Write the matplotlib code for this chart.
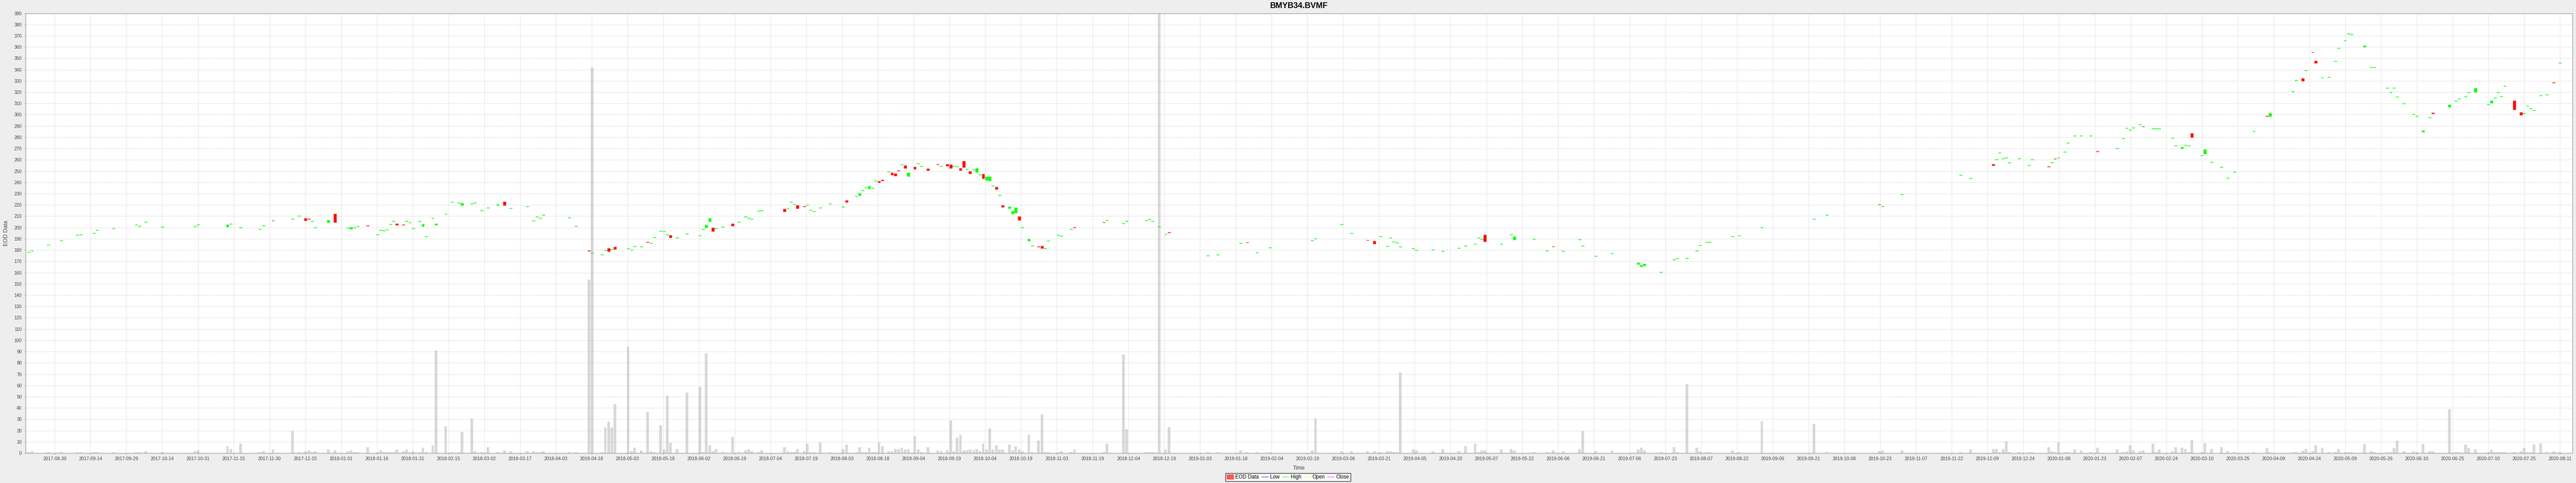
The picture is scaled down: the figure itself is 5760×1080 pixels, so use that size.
import numpy as np
import matplotlib
matplotlib.use("Agg")
import matplotlib.pyplot as plt
from matplotlib.patches import Patch
from matplotlib.lines import Line2D

plt.rcParams['font.family'] = ['Liberation Sans', 'DejaVu Sans']

title = "BMYB34.BVMF"
y_label = "EOD Data"
x_label = "Time"
base_date = "2017-08-30"   # sessions are counted in business days from this date

tick_labels = [
    "2017-08-30", "2017-09-14", "2017-09-29", "2017-10-14", "2017-10-31", "2017-11-15",
    "2017-11-30", "2017-12-15", "2018-01-01", "2018-01-16", "2018-01-31", "2018-02-15",
    "2018-03-02", "2018-03-17", "2018-04-03", "2018-04-18", "2018-05-03", "2018-05-18",
    "2018-06-02", "2018-06-19", "2018-07-04", "2018-07-19", "2018-08-03", "2018-08-18",
    "2018-09-04", "2018-09-19", "2018-10-04", "2018-10-19", "2018-11-03", "2018-11-19",
    "2018-12-04", "2018-12-19", "2019-01-03", "2019-01-18", "2019-02-04", "2019-02-19",
    "2019-03-06", "2019-03-21", "2019-04-05", "2019-04-20", "2019-05-07", "2019-05-22",
    "2019-06-06", "2019-06-21", "2019-07-06", "2019-07-23", "2019-08-07", "2019-08-22",
    "2019-09-06", "2019-09-21", "2019-10-08", "2019-10-23", "2019-11-07", "2019-11-22",
    "2019-12-09", "2019-12-24", "2020-01-08", "2020-01-23", "2020-02-07", "2020-02-24",
    "2020-03-10", "2020-03-25", "2020-04-09", "2020-04-24", "2020-05-09", "2020-05-26",
    "2020-06-10", "2020-06-25", "2020-07-10", "2020-07-25", "2020-08-11",
]

# ---- 2017-08 .. 2018-02
sessions_a = [-8, -7, -2, 2, 7, 8, 12, 13, 18, 25, 26, 28, 33, 43, 44, 53, 54, 57, 63, 64, 67, 73, 75, 77, 78,
              79, 80, 84, 86, 90, 91, 92, 93, 96, 99, 100, 101, 102, 103, 104, 105, 107, 108, 109, 110, 112,
              113, 114, 116, 117, 120]
open_a = [178.1, 179.3, 184.4, 188.3, 193.1, 193.6, 194.7, 197.5, 199.0, 202.3, 201.0, 204.6, 200.3, 200.5,
          202.3, 200.5, 203.1, 200.0, 198.2, 201.6, 206.1, 207.4, 210.2, 208.4, 207.8, 205.4, 200.0, 204.6,
          212.2, 199.5, 198.8, 200.0, 201.0, 201.7, 193.4, 197.5, 197.0, 197.7, 202.6, 205.6, 203.5, 202.5,
          205.4, 204.4, 199.0, 205.6, 200.9, 191.9, 208.2, 202.4, 211.8]
close_a = [178.5, 179.7, 184.8, 188.7, 193.5, 194.0, 195.1, 197.9, 199.4, 202.7, 201.4, 205.0, 200.7, 200.9,
           202.7, 202.5, 203.5, 200.4, 198.6, 202.0, 206.1, 207.8, 210.6, 206.4, 207.4, 205.8, 200.4, 206.6,
           204.6, 199.9, 200.3, 200.4, 201.4, 201.3, 193.8, 197.9, 197.4, 198.1, 203.0, 206.0, 202.3, 202.1,
           205.8, 204.8, 199.4, 206.0, 203.0, 192.3, 208.6, 203.6, 212.2]
volume_a = [0.8, 1.5, 0.8, 0.8, 0.8, 0.8, 0.8, 0.8, 0.8, 0.8, 0.8, 1.5, 0.8, 1.5, 2.3, 5.9, 3.8, 8.2, 0.8, 1.5,
            3.1, 19.4, 0.8, 1.5, 2.3, 0.8, 1.5, 3.1, 2.3, 1.5, 2.3, 0.8, 0.8, 5.1, 0.8, 2.3, 0.8, 0.8, 0.8,
            0.8, 3.1, 1.5, 3.1, 0.8, 1.5, 0.8, 4.6, 0.8, 6.9, 90.9, 23.8]

# ---- 2018-02 .. 2018-08
sessions_b = [122, 124, 125, 128, 129, 131, 133, 136, 138, 140, 145, 147, 148, 149, 150, 158, 160, 164, 165,
              168, 169, 170, 171, 172, 176, 177, 178, 180, 182, 183, 184, 186, 187, 188, 189, 191, 194, 198,
              199, 200, 201, 202, 203, 205, 208, 210, 212, 213, 214, 216, 217, 224, 225, 226, 227, 228, 230,
              231, 232, 233, 235, 238, 242, 243, 246, 247, 248, 249, 250, 251]
open_b = [222.5, 221.5, 219.6, 220.7, 221.7, 214.8, 217.4, 219.9, 223.0, 216.9, 218.4, 205.9, 209.5, 208.2,
          211.0, 208.5, 201.0, 179.7, 177.3, 175.5, 179.8, 181.6, 180.6, 182.9, 181.1, 180.1, 183.2, 182.7,
          187.1, 186.0, 191.1, 196.7, 196.5, 193.4, 193.1, 190.8, 194.2, 192.6, 198.2, 200.0, 205.3, 199.7,
          199.0, 200.3, 203.5, 204.6, 209.5, 208.2, 207.4, 214.6, 215.1, 216.6, 216.9, 222.5, 220.5, 219.9,
          218.8, 219.7, 215.4, 214.1, 217.4, 221.0, 218.2, 224.0, 227.8, 228.6, 232.8, 235.3, 234.2, 234.8]
close_b = [222.9, 221.9, 221.7, 221.1, 222.1, 215.2, 217.8, 220.3, 219.6, 217.3, 218.8, 206.3, 209.9, 208.6,
           211.4, 208.9, 201.4, 179.3, 177.7, 175.9, 180.2, 179.0, 181.0, 180.8, 181.5, 180.5, 183.6, 183.1,
           186.7, 186.4, 191.5, 197.1, 196.9, 193.8, 191.0, 191.2, 194.6, 193.0, 198.6, 202.3, 208.1, 196.7,
           199.4, 200.7, 201.5, 205.0, 209.9, 208.6, 207.8, 215.0, 215.5, 214.3, 217.3, 222.9, 220.9, 216.8,
           218.4, 220.1, 215.8, 214.5, 217.8, 221.4, 218.6, 222.5, 228.2, 230.6, 233.2, 235.7, 236.7, 235.2]
volume_b = [0.8, 0.8, 18.6, 30.6, 1.5, 0.8, 5.1, 0.8, 2.3, 1.5, 1.5, 1.5, 0.8, 0.8, 1.5, 0.8, 0.8, 154.0,
            341.7, 0.8, 22.5, 27.6, 22.5, 43.2, 94.5, 1.5, 4.6, 2.3, 36.5, 1.5, 0.8, 24.5, 3.1, 50.6, 9.2,
            3.8, 53.6, 58.7, 0.8, 88.4, 6.9, 1.5, 3.8, 0.8, 14.3, 0.8, 2.3, 3.1, 1.5, 0.8, 2.3, 5.1, 1.5,
            0.8, 0.8, 3.8, 1.5, 8.2, 0.8, 0.8, 9.7, 0.8, 3.8, 7.7, 0.8, 5.1, 0.8, 0.8, 4.6, 0.8]

# ---- 2018-08 .. 2019-02
sessions_c = [252, 253, 254, 256, 257, 258, 259, 260, 261, 262, 264, 265, 266, 268, 271, 272, 274, 275, 276,
              277, 278, 279, 280, 281, 282, 283, 284, 285, 286, 287, 288, 289, 290, 291, 293, 294, 295, 296,
              297, 299, 300, 302, 303, 304, 305, 308, 309, 312, 313, 322, 323, 328, 329, 335, 336, 337, 339,
              341, 342, 354, 357, 364, 366, 369, 373]
open_c = [241.1, 241.3, 242.2, 249.3, 248.5, 247.7, 250.5, 255.7, 255.1, 245.4, 253.9, 256.5, 254.2, 252.1,
          256.1, 254.2, 256.2, 255.6, 254.2, 253.9, 252.6, 259.0, 251.6, 249.8, 250.9, 249.0, 246.5, 247.5,
          242.1, 241.6, 236.6, 236.0, 228.4, 219.9, 217.1, 212.0, 213.0, 209.9, 200.0, 188.0, 183.7, 183.1,
          183.6, 181.4, 187.8, 193.1, 192.4, 198.2, 200.4, 204.6, 206.2, 203.3, 205.4, 206.2, 206.9, 205.4,
          200.5, 193.9, 195.8, 175.0, 175.8, 186.0, 186.7, 177.6, 181.9]
close_c = [241.5, 239.8, 241.5, 249.7, 246.5, 245.7, 250.1, 256.1, 252.8, 248.5, 251.8, 256.9, 254.6, 250.5,
           255.7, 254.6, 254.6, 252.6, 254.6, 254.3, 250.8, 253.3, 252.0, 247.7, 251.3, 252.6, 246.9, 243.6,
           244.9, 245.2, 237.0, 234.0, 228.8, 218.1, 218.4, 214.5, 217.6, 206.6, 200.4, 190.0, 184.1, 182.7,
           181.6, 181.8, 188.2, 193.5, 192.8, 198.6, 200.0, 204.6, 206.6, 203.7, 205.8, 206.6, 207.3, 205.8,
           200.9, 194.3, 195.4, 175.4, 176.2, 186.4, 186.7, 178.0, 182.3]
volume_c = [0.8, 9.7, 5.9, 1.5, 1.5, 3.8, 3.8, 4.6, 3.1, 3.1, 15.1, 3.1, 0.8, 5.1, 2.3, 1.5, 2.3, 28.9, 1.5,
            13.5, 16.3, 2.3, 2.3, 3.1, 2.3, 3.8, 1.5, 8.4, 3.1, 21.7, 3.1, 6.9, 3.1, 3.1, 7.7, 2.3, 5.9, 3.1,
            1.5, 16.3, 0.8, 11.2, 34.2, 0.8, 0.8, 0.8, 1.5, 0.8, 3.1, 0.8, 8.2, 87.1, 20.9, 0.8, 0.8, 0.8,
            395.0, 3.1, 23.0, 0.8, 0.8, 2.3, 0.8, 0.8, 0.8]

# ---- 2019-02 .. 2019-08
sessions_d = [386, 387, 395, 398, 403, 405, 407, 409, 410, 411, 412, 413, 417, 418, 423, 426, 431, 433, 436,
              437, 438, 439, 444, 447, 448, 454, 458, 460, 463, 468, 469, 473, 478, 486, 487, 488, 493, 497,
              498, 501, 504, 505, 507, 508]
open_d = [188.3, 190.1, 202.8, 194.7, 188.7, 188.0, 191.9, 183.2, 190.8, 187.0, 186.2, 182.9, 181.4, 179.8,
          180.1, 178.8, 181.6, 183.7, 185.2, 190.6, 189.6, 193.6, 185.2, 193.4, 189.2, 189.6, 179.1, 183.1,
          178.8, 189.0, 183.7, 174.5, 176.8, 167.3, 165.4, 166.3, 160.2, 171.2, 172.4, 172.4, 179.1, 184.2,
          186.7, 186.7]
close_d = [188.7, 190.5, 203.2, 195.1, 188.7, 185.5, 192.3, 183.6, 191.2, 187.4, 186.6, 183.3, 181.8, 180.2,
           180.5, 179.2, 182.0, 184.1, 185.6, 191.0, 190.0, 187.7, 185.6, 193.8, 192.1, 190.0, 179.5, 183.1,
           179.2, 189.4, 184.1, 174.9, 177.2, 168.8, 166.6, 167.7, 160.6, 171.6, 172.8, 172.8, 179.5, 184.6,
           187.1, 187.1]
volume_d = [2.3, 30.6, 1.5, 1.5, 1.5, 1.5, 0.8, 1.5, 1.5, 0.8, 0.8, 71.5, 3.1, 2.3, 1.5, 3.8, 1.5, 5.9, 8.4,
            0.8, 2.3, 2.3, 3.1, 3.8, 2.3, 0.8, 0.8, 2.3, 1.5, 3.8, 19.4, 1.5, 2.3, 3.1, 4.6, 2.3, 0.8, 5.1,
            0.8, 61.0, 4.6, 1.5, 0.8, 0.8]

# ---- 2019-08 .. 2020-02
sessions_e = [515, 517, 524, 540, 544, 560, 561, 567, 585, 588, 595, 596, 597, 598, 599, 600, 603, 606, 607,
              612, 613, 614, 615, 617, 618, 620, 622, 625, 627, 633, 635, 636, 637, 638, 640, 641]
open_e = [191.9, 192.9, 200.0, 207.4, 211.0, 220.4, 218.4, 229.1, 246.3, 243.4, 256.0, 260.0, 266.2, 261.1,
          261.6, 257.2, 261.1, 254.9, 260.0, 254.1, 257.2, 260.8, 261.6, 266.9, 274.9, 281.0, 281.0, 281.0,
          267.6, 270.0, 278.7, 287.9, 286.4, 288.1, 290.9, 289.6]
close_e = [192.3, 193.3, 200.4, 207.8, 211.4, 220.4, 218.8, 229.5, 246.7, 243.8, 254.9, 260.4, 266.6, 261.5,
           262.0, 257.6, 261.5, 255.3, 260.4, 253.7, 257.6, 260.8, 262.0, 267.3, 275.3, 281.4, 281.4, 281.4,
           267.2, 270.4, 279.1, 288.3, 286.8, 288.5, 291.3, 289.6]
volume_e = [2.3, 0.8, 28.1, 26.0, 0.8, 1.5, 2.3, 2.3, 0.8, 3.1, 3.8, 3.8, 0.8, 3.8, 10.5, 0.8, 0.8, 0.8, 0.8,
            5.1, 1.5, 0.8, 9.7, 0.8, 0.8, 3.1, 2.3, 0.8, 4.6, 3.1, 0.8, 1.5, 6.9, 2.3, 1.5, 2.3]

# ---- 2020-02 .. 2020-08
sessions_f = [644, 645, 646, 650, 651, 653, 654, 655, 656, 659, 660, 662, 665, 667, 669, 675, 679, 680, 687,
              688, 690, 691, 693, 694, 696, 698, 700, 701, 703, 704, 705, 709, 711, 712, 716, 717, 718, 719,
              721, 724, 725, 727, 729, 730, 735, 737, 738, 740, 741, 743, 747, 748, 749, 750, 751, 752, 755,
              757, 758, 759, 760, 761, 763, 765, 767, 769]
open_f = [287.6, 287.4, 287.4, 279.2, 272.3, 269.9, 272.8, 272.6, 283.5, 263.9, 265.3, 257.8, 253.4, 244.0,
          249.1, 285.3, 299.0, 298.6, 320.3, 330.3, 332.3, 339.2, 355.3, 347.6, 332.8, 333.1, 347.4, 358.9,
          365.5, 371.7, 371.2, 360.0, 341.8, 342.0, 323.6, 319.8, 323.6, 315.5, 309.9, 300.1, 298.6, 284.8,
          297.6, 301.9, 306.8, 312.1, 313.9, 316.2, 319.8, 320.0, 308.8, 310.6, 315.0, 319.8, 316.0, 325.2,
          312.3, 302.2, 300.9, 307.8, 305.3, 303.7, 317.0, 317.5, 328.6, 345.9]
close_f = [288.0, 287.8, 287.8, 279.6, 272.7, 271.1, 273.2, 273.0, 279.9, 264.3, 269.2, 258.2, 253.8, 244.4,
           249.5, 285.7, 298.6, 301.4, 320.7, 330.7, 330.0, 339.6, 355.3, 345.8, 333.2, 333.5, 347.8, 359.3,
           365.9, 372.1, 371.6, 361.3, 342.2, 342.4, 324.0, 320.2, 324.0, 315.9, 310.3, 300.5, 299.0, 285.8,
           298.0, 300.9, 308.8, 312.5, 314.3, 316.6, 320.2, 323.6, 309.2, 312.6, 315.4, 320.2, 316.4, 325.6,
           304.4, 299.7, 301.3, 308.2, 305.7, 304.1, 317.4, 317.9, 328.2, 346.3]
volume_f = [8.4, 0.8, 3.1, 1.5, 5.1, 4.6, 3.6, 0.8, 11.7, 0.8, 8.9, 3.8, 5.1, 1.5, 0.8, 0.8, 4.3, 0.8, 0.8,
            0.8, 2.0, 3.8, 1.5, 6.9, 4.6, 0.8, 0.8, 3.8, 0.8, 0.8, 0.8, 7.9, 1.5, 0.8, 0.8, 0.8, 4.3, 11.2,
            1.5, 1.5, 0.8, 7.9, 1.5, 1.5, 38.8, 0.8, 0.8, 7.7, 4.3, 3.1, 0.8, 2.8, 0.8, 0.8, 0.8, 0.8, 0.8,
            1.5, 4.3, 0.8, 0.8, 7.7, 8.9, 0.8, 1.5, 0.8]

sess = np.array(sessions_a + sessions_b + sessions_c + sessions_d + sessions_e + sessions_f, dtype=float)
opn = np.array(open_a + open_b + open_c + open_d + open_e + open_f)
cls = np.array(close_a + close_b + close_c + close_d + close_e + close_f)
vol = np.array(volume_a + volume_b + volume_c + volume_d + volume_e + volume_f)
assert len(sess) == len(opn) == len(cls) == len(vol)

# ---------------------------------------------------------------- figure
W, H = 5760, 1080
fig = plt.figure(figsize=(W / 100, H / 100), dpi=100, facecolor='#eeeeee')
L, R, T, B = 57, 5752, 29.5, 1013.1
ax = fig.add_axes([L / W, (H - B) / H, (R - L) / W, (B - T) / H])
ax.set_facecolor('white')

# volume bars (gray, 30% alpha)
ax.bar(sess, vol, width=0.8, color='#808080', alpha=0.3, linewidth=0, zorder=2)

lo = np.minimum(opn, cls)
hi = np.maximum(opn, cls)
up = cls > opn
dn = cls < opn
dj = cls == opn
ax.bar(sess[up], (hi - lo)[up], bottom=lo[up], width=0.8, color='#00ff00',
       edgecolor='#00ff00', linewidth=0.4, zorder=3)
ax.bar(sess[dn], (hi - lo)[dn], bottom=lo[dn], width=0.8, color='#ff0000',
       edgecolor='#ff0000', linewidth=0.4, zorder=3)
ax.hlines(opn[dj], sess[dj] - 0.4, sess[dj] + 0.4, color='#aa2222', linewidth=0.8, zorder=3)

# axes
n_last = np.busday_count(tick_labels[0], tick_labels[-1])
ticks = np.linspace(0, n_last, len(tick_labels))
ax.set_xticks(ticks)
ax.set_xticklabels(tick_labels)
ax.set_xlim(-8.98, 772.8)
ax.set_ylim(0, 390)
ax.set_yticks(np.arange(0, 391, 10))

ax.grid(True, color='#d0d0d0', linestyle=(0, (2, 2)), linewidth=0.8, zorder=0)
ax.set_axisbelow(True)
for s in ax.spines.values():
    s.set_color('#a0a0a0')
    s.set_linewidth(1.0)
ax.tick_params(axis='both', length=2, width=0.8, color='#a0a0a0',
               labelsize=7.4, labelcolor='#444444')
ax.tick_params(axis='x', pad=4)
ax.tick_params(axis='y', pad=4)

ax.set_ylabel(y_label, fontsize=9, color='#444444', labelpad=6)
ax.yaxis.set_label_coords(-(L - 20) / (R - L), 0.5)
ax.set_xlabel(x_label, fontsize=9, color='#444444')
ax.xaxis.set_label_coords(0.5, -(1041 - B) / (B - T))

fig.text((L + R) / 2 / W, 1 - 13 / H, title, ha='center', va='center',
         fontsize=13, fontweight='bold', color='black')

handles = [Patch(facecolor='#ff5555', edgecolor='#ff5555', label='EOD Data'),
           Line2D([], [], color='#5555ff', lw=1, label='Low'),
           Line2D([], [], color='#55ff55', lw=1, label='High'),
           Line2D([], [], color='#ffff55', lw=1, label='Open'),
           Line2D([], [], color='#ff55ff', lw=1, label='Close')]
leg = fig.legend(handles=handles, loc='center', bbox_to_anchor=(2880 / W, 1 - 1067 / H),
                 ncol=5, fontsize=8.3, frameon=True, fancybox=False, edgecolor='black',
                 handlelength=1.3, handleheight=0.9, handletextpad=0.35, columnspacing=0.5,
                 borderpad=0.3, borderaxespad=0)
leg.get_frame().set_linewidth(1.0)

fig.savefig('out.png', dpi=100, facecolor=fig.get_facecolor())
